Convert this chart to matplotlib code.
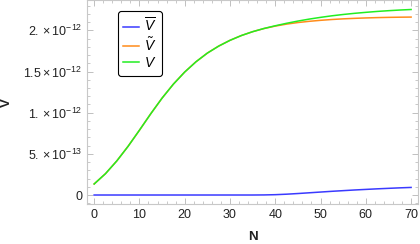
import matplotlib
matplotlib.use("Agg")
import matplotlib.pyplot as plt
from matplotlib.ticker import FixedLocator, FixedFormatter, MultipleLocator
import numpy as np

plt.rcParams["font.family"] = ["Liberation Sans", "DejaVu Sans"]
plt.rcParams["mathtext.fontset"] = "custom"
plt.rcParams["mathtext.rm"] = "Liberation Sans"
plt.rcParams["mathtext.it"] = "Liberation Sans:italic"
plt.rcParams["mathtext.default"] = "regular"

# values in units of 1e-12
n = [0, 2.5, 5, 7.5, 10, 12.5, 15, 17.5, 20, 22.5, 25, 27.5, 30, 32.5, 35,
     37.5, 40, 42.5, 45, 47.5, 50, 52.5, 55, 57.5, 60, 62.5, 65, 67.5, 70]
v_bar = [0, 0, 0, 0, 0, 0, 0, 0, 0, 0, 0, 0, 0, 0, 0,
         0.001, 0.004, 0.010, 0.018, 0.027, 0.036, 0.045, 0.053, 0.061, 0.068, 0.075, 0.081, 0.087, 0.092]
v_tilde = [0.134, 0.259, 0.414, 0.592, 0.787, 0.987, 1.177, 1.347, 1.494, 1.619, 1.724, 1.809, 1.879, 1.937, 1.984,
           2.022, 2.052, 2.076, 2.095, 2.110, 2.122, 2.132, 2.140, 2.146, 2.151, 2.155, 2.158, 2.160, 2.1615]
v_total = [0.134, 0.259, 0.414, 0.592, 0.787, 0.987, 1.177, 1.347, 1.494, 1.619, 1.724, 1.809, 1.879, 1.937, 1.984,
           2.023, 2.056, 2.086, 2.113, 2.137, 2.158, 2.177, 2.193, 2.207, 2.219, 2.230, 2.239, 2.247, 2.2535]

scale = 1e-12
ytick_vals = [0, 0.5, 1.0, 1.5, 2.0]
ytick_labels = ["0", r"$5.\times10^{-13}$", r"$1.\times10^{-12}$", r"$1.5\times10^{-12}$", r"$2.\times10^{-12}$"]
xtick_vals = [0, 10, 20, 30, 40, 50, 60, 70]

fig = plt.figure(figsize=(4.2, 2.44), dpi=100)
ax = fig.add_axes([0.208, 0.164, 0.787, 0.834])

ax.plot(n, np.array(v_bar) * scale, color="#3a3aff", lw=1.1, label=r"$\overline{\mathit{V}}$")
ax.plot(n, np.array(v_tilde) * scale, color="#ff8c1a", lw=1.1, label=r"$\tilde{\mathit{V}}$")
ax.plot(n, np.array(v_total) * scale, color="#22ee22", lw=1.1, label=r"$\mathit{V}$")

ax.set_xlim(-1.5, 71.5)
ax.set_ylim(-0.109e-12, 2.363e-12)

ax.xaxis.set_major_locator(FixedLocator(xtick_vals))
ax.xaxis.set_minor_locator(MultipleLocator(2))
ax.yaxis.set_major_locator(FixedLocator([t * scale for t in ytick_vals]))
ax.yaxis.set_major_formatter(FixedFormatter(ytick_labels))
ax.yaxis.set_minor_locator(MultipleLocator(0.1e-12))

for s in ax.spines.values():
    s.set_color("#c8c8c8")
    s.set_linewidth(0.8)
ax.tick_params(which="both", direction="in", color="#c0c0c0", top=True, right=True,
               labelsize=9, labelcolor="#222222")
ax.tick_params(which="major", length=4, width=0.7)
ax.tick_params(which="minor", length=2, width=0.6)

ax.set_xlabel("N", fontsize=9.5, fontweight="bold", color="#222222")
ax.set_ylabel("V", fontsize=9.5, fontweight="bold", color="#222222")
ax.xaxis.set_label_coords(0.5, -0.131)
ax.yaxis.set_label_coords(-0.224, 0.5)

leg = ax.legend(loc="upper left", bbox_to_anchor=(0.092, 0.948), borderaxespad=0, fontsize=10,
                handlelength=1.1, handletextpad=0.4, labelspacing=0.12,
                borderpad=0.4, fancybox=True, framealpha=1)
leg.get_frame().set_edgecolor("black")
leg.get_frame().set_linewidth(0.8)

fig.savefig("out.png", dpi=100)
